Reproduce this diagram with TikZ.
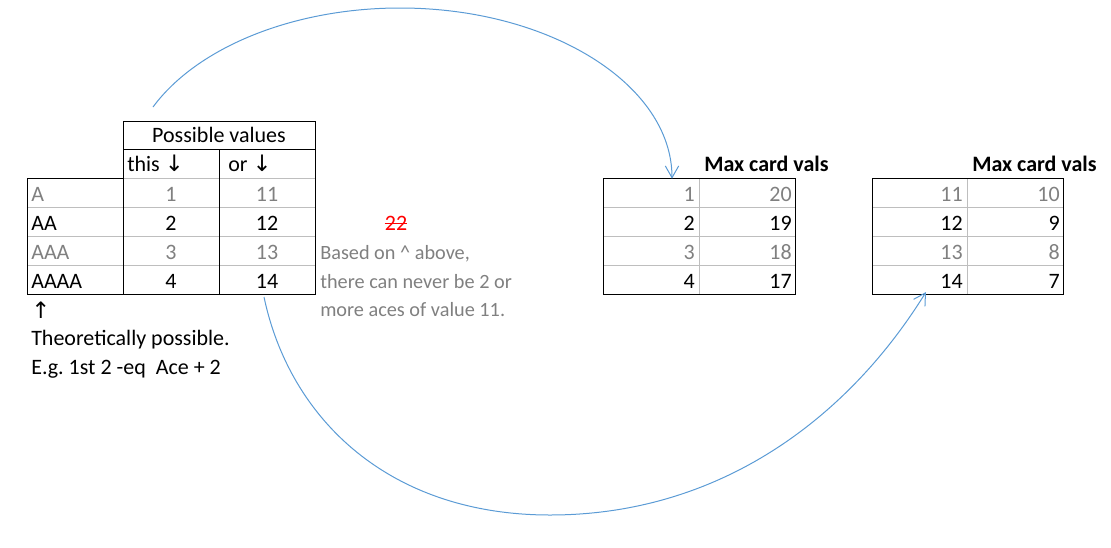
\documentclass[tikz,border=0pt]{standalone}
\usepackage{fontspec}
\setmainfont{Carlito}
\newfontfamily\arrowfont{DejaVu Sans}
\usetikzlibrary{arrows.meta}
\definecolor{cellgray}{RGB}{128,128,128}
\definecolor{gridgray}{RGB}{190,190,190}
\definecolor{linkblue}{RGB}{91,155,213}
\newcommand{\dnarrow}{{\arrowfont\fontsize{17}{19}\selectfont ↓}}
\newcommand{\uparr}{{\arrowfont\fontsize{17}{19}\selectfont ↑}}
\frenchspacing
\begin{document}
\begin{tikzpicture}[x=0.75pt,y=-0.75pt,font=\fontsize{16.5}{19}\selectfont,
        cell/.style={anchor=base,inner sep=0pt},
        lcell/.style={anchor=base west,inner sep=0pt},
        rcell/.style={anchor=base east,inner sep=0pt},
        dim/.style={text=cellgray},
        note/.style={anchor=base west,inner sep=0pt,text=cellgray,font=\fontsize{15.2}{18}\selectfont},
        grid/.style={draw=gridgray,line width=0.75pt},
        frame/.style={draw=black,line width=0.75pt},
        link/.style={draw=linkblue,line width=0.75pt,-{Straight Barb[length=8.8pt,width=10pt]}}]
        \useasboundingbox (0,0) rectangle (1111,547);
        %% aces table
        \draw[grid] (123,178.7) -- (315,178.7) (27,207.5) -- (315,207.5)
            (27,236.3) -- (315,236.3) (27,265.2) -- (315,265.2);
        \draw[frame] (27,178.7) -- (123,178.7);
        \draw[frame] (27,178.7) -- (27,294) -- (315,294) -- (315,121) -- (123,121) -- (123,294);
        \draw[frame] (123,149.8) -- (315,149.8);
        \draw[frame] (219,149.8) -- (219,294);
        \node[cell] (P) at (219,142) {Possible values};
        \node[lcell] (this) at (127,171.5) {this \dnarrow};
        \node[lcell] (or) at (228,171.5) {or \dnarrow};
        \node[lcell,dim] (A1) at (31,201) {A};
        \node[cell,dim] (T1) at (171,201) {1};
        \node[cell,dim] (O1) at (267,201) {11};
        \node[lcell] (A2) at (31,230) {AA};
        \node[cell] (T2) at (171,230) {2};
        \node[cell] (O2) at (267,230) {12};
        \node[lcell,dim] (A3) at (31,259) {AAA};
        \node[cell,dim] (T3) at (171,259) {3};
        \node[cell,dim] (O3) at (267,259) {13};
        \node[lcell] (A4) at (31,288) {AAAA};
        \node[cell] (T4) at (171,288) {4};
        \node[cell] (O4) at (267,288) {14};
        %% notes
        \node[lcell] (up) at (31,318) {\uparr};
        \node[lcell] (theo) at (31,345.5) {Theoretically possible.};
        \node[lcell] (eg) at (31,374.5) {E.g. 1st 2 -eq\ \ Ace + 2};
        \node[cell,text=red] (X) at (396,230) {22};
        \draw[red,line width=0.75pt] ([yshift=5pt]X.base west) -- ([yshift=5pt]X.base east);
        \node[note] (N1) at (320,259) {Based on \textasciicircum\ above,};
        \node[note] (N2) at (320,288) {there can never be 2 or};
        \node[note] (N3) at (320,316.5) {more aces of value 11.};
        %% max card vals, first
        \draw[grid] (603,207.5) -- (795,207.5) (603,236.3) -- (795,236.3)
            (603,265.2) -- (795,265.2) (699,178.7) -- (699,294);
        \draw[frame] (603,178.7) rectangle (795,294);
        \node[lcell,font=\fontsize{16.5}{19}\selectfont\bfseries] (M1) at (704,171) {Max card vals};
        \node[rcell,dim] (B1) at (695,201) {1};
        \node[rcell,dim] (C1) at (792,201) {20};
        \node[rcell] (B2) at (695,230) {2};
        \node[rcell] (C2) at (792,230) {19};
        \node[rcell,dim] (B3) at (695,259) {3};
        \node[rcell,dim] (C3) at (792,259) {18};
        \node[rcell] (B4) at (695,288) {4};
        \node[rcell] (C4) at (792,288) {17};
        %% max card vals, second
        \draw[grid] (872,207.5) -- (1063,207.5) (872,236.3) -- (1063,236.3)
            (872,265.2) -- (1063,265.2) (967,178.7) -- (967,294);
        \draw[frame] (872,178.7) rectangle (1063,294);
        \node[lcell,font=\fontsize{16.5}{19}\selectfont\bfseries] (M2) at (972,171) {Max card vals};
        \node[rcell,dim] (D1) at (963,201) {11};
        \node[rcell,dim] (E1) at (1060,201) {10};
        \node[rcell] (D2) at (963,230) {12};
        \node[rcell] (E2) at (1060,230) {9};
        \node[rcell,dim] (D3) at (963,259) {13};
        \node[rcell,dim] (E3) at (1060,259) {8};
        \node[rcell] (D4) at (963,288) {14};
        \node[rcell] (E4) at (1060,288) {7};
        %% arrows
        \coordinate (s1) at (153,107);
        \coordinate (top1) at (400,8);
        \coordinate (e1) at (672,178.7);
        \draw[link] (s1) .. controls +(44.5,-60.2) and +(-106,0) .. (top1)
            .. controls +(150.2,0) and +(0,-93.9) .. (e1);
        \coordinate (s2) at (264,297);
        \coordinate (bot2) at (550,515);
        \coordinate (e2) at (926,292);
        \draw[link] (s2) .. controls +(26,123) and +(-160,0) .. (bot2)
            .. controls +(170,0) and +(-78,126) .. (e2);
\end{tikzpicture}
\end{document}
